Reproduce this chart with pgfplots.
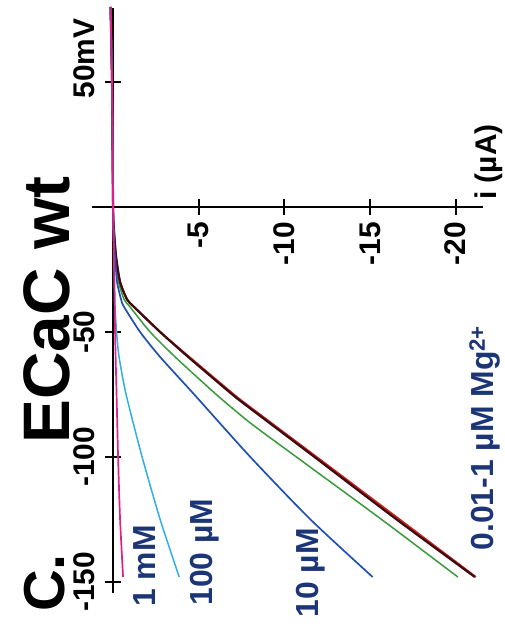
\documentclass[border=0pt]{standalone}
\usepackage{pgfplots}
\pgfplotsset{compat=1.18}
\usepackage{fontspec}
\setmainfont{Liberation Sans}
\definecolor{navy}{HTML}{1C3577}
\definecolor{cmag}{HTML}{E0208A}
\definecolor{ccyan}{HTML}{30B0E0}
\definecolor{cblue}{HTML}{2050B0}
\definecolor{cgreen}{HTML}{3A9A3A}
\definecolor{cred}{HTML}{D02020}
\definecolor{cmaroon}{HTML}{3A0C10}
\newcommand\ticksfont{\fontsize{30}{30}\selectfont\bfseries}
\newcommand\labfont{\fontsize{32}{32}\selectfont\bfseries}
\begin{document}
\begin{tikzpicture}
\useasboundingbox (-92bp,-35bp) rectangle (413bp,593bp);
\begin{axis}[
 at={(0,0)}, anchor=south west, scale only axis, width=391bp, height=585bp,
 xmin=-21.6, xmax=1.23, ymin=-154.4, ymax=79.6, x dir=reverse,
 axis lines=middle, axis line style={-, line width=2.2bp, black},
 xtick={-5,-10,-15,-20}, xticklabels={-5,-10,-15,-20},
 ytick={-150,-100,-50,50}, yticklabels={-150,-100,-50,{50\rlap{mV}}},
 tick style={line width=2bp, black}, major tick length=16bp, tick align=center,
 xticklabel style={yshift=-7bp, rotate=90, anchor=east, inner sep=0pt, font=\ticksfont},
 yticklabel style={xshift=-10bp, rotate=90, anchor=south, inner sep=0pt, font=\ticksfont},
 clip=false,
]
\addplot[cgreen, line width=1.5bp, smooth, tension=0.4] coordinates {(0.146,80) (0.059,50) (0.018,20) (0,0) (-0.029,-10) (-0.117,-20) (-0.322,-30) (-0.644,-37) (-0.995,-40) (-2.165,-50) (-3.628,-60) (-6.027,-75) (-8.016,-86.4) (-10.708,-100) (-15.682,-125) (-20.13,-148)};
\addplot[cred, line width=2bp, smooth, tension=0.4] coordinates {(0.146,80) (0.059,50) (0,0) (-0.059,-10) (-0.176,-20) (-0.41,-30) (-0.819,-37) (-1.229,-40) (-2.75,-50) (-4.45,-60) (-7.05,-75) (-7.99,-80) (-11.88,-100) (-16.73,-125) (-21.18,-148)};
\addplot[cmaroon, line width=2.2bp, smooth, tension=0.4] coordinates {(0.146,80) (0.059,50) (0,0) (-0.059,-10) (-0.176,-20) (-0.41,-30) (-0.819,-37) (-1.229,-40) (-2.75,-50) (-4.389,-60) (-6.963,-75) (-7.899,-80) (-11.761,-100) (-16.559,-125) (-21.124,-148)};
\addplot[ccyan, line width=1.5bp, smooth, tension=0.4] coordinates {(0.146,80) (0.059,50) (0.018,20) (0,0) (-0.029,-10) (-0.059,-20) (-0.088,-30) (-0.117,-40) (-0.205,-50) (-0.351,-60) (-0.761,-75) (-1.697,-100) (-2.75,-125) (-3.862,-148)};
\addplot[cblue, line width=1.7bp, smooth, tension=0.4] coordinates {(0.146,80) (0.059,50) (0.018,20) (0,0) (-0.029,-10) (-0.117,-20) (-0.234,-30) (-0.468,-37) (-0.644,-40) (-1.58,-50) (-2.75,-60) (-4.74,-75) (-8.016,-100) (-11.527,-125) (-15.155,-148)};
\addplot[cmag, line width=1.7bp, smooth, tension=0.4] coordinates {(0.146,80) (0.059,50) (0.018,20) (0,0) (-0.059,-25) (-0.117,-50) (-0.205,-75) (-0.293,-100) (-0.41,-125) (-0.585,-148)};
\end{axis}
\node[rotate=90, font=\fontsize{66}{66}\selectfont\bfseries] at (-45bp,283bp) {ECaC wt};
\node[rotate=90, font=\fontsize{58}{58}\selectfont\bfseries] at (-47bp,10bp) {C.};
\node[rotate=90, font=\ticksfont] at (397bp,431bp) {i (µA)};
\node[rotate=90, font=\labfont, text=navy] at (53bp,27bp) {1 mM};
\node[rotate=90, font=\labfont, text=navy] at (113bp,41bp) {100 µM};
\node[rotate=90, font=\labfont, text=navy] at (219bp,20bp) {10 µM};
\node[rotate=90, font=\labfont, text=navy] at (393bp,155bp) {0.01-1 µM Mg\textsuperscript{2+}};
\end{tikzpicture}
\end{document}
